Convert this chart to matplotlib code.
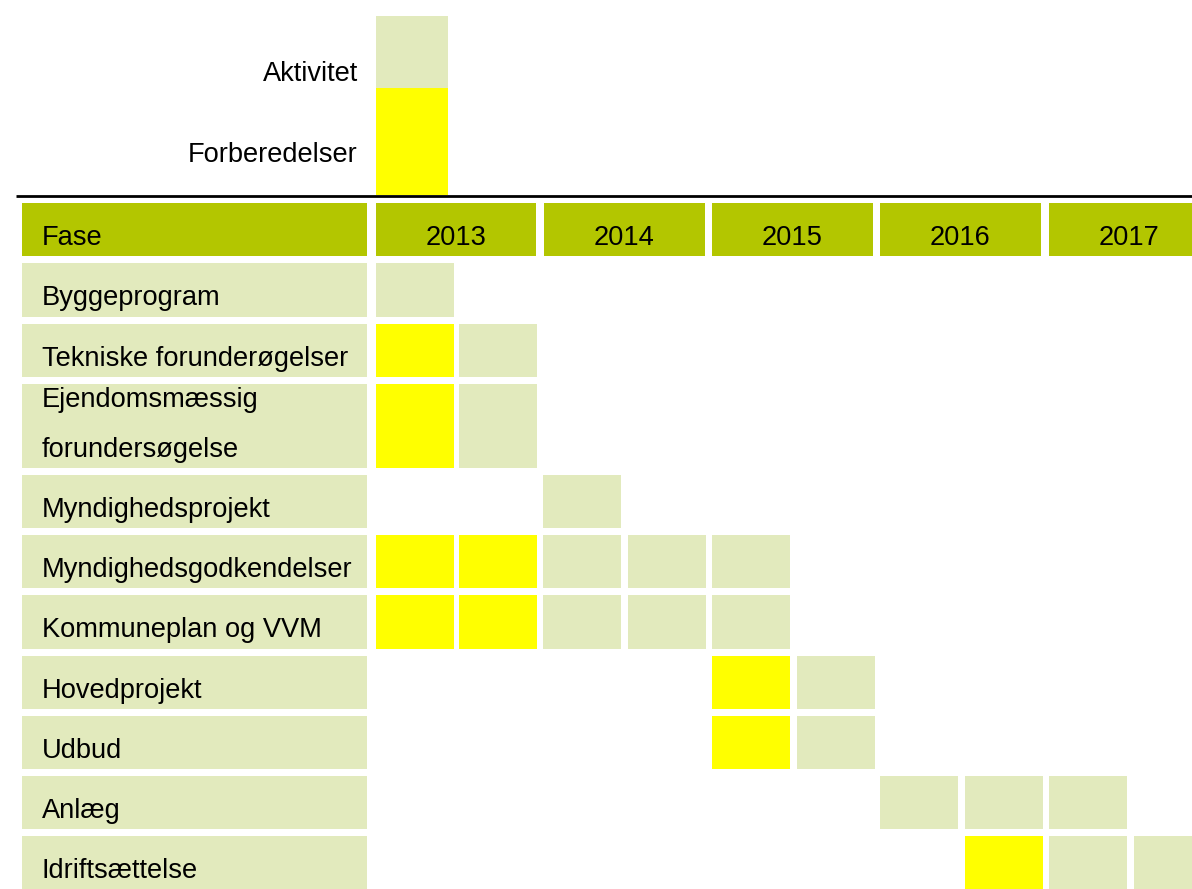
import matplotlib
matplotlib.use('Agg')
import matplotlib.pyplot as plt
from matplotlib.patches import Rectangle

plt.rcParams['font.family'] = ['Liberation Sans', 'DejaVu Sans']

# data: 0 = nothing, 1 = aktivitet, 2 = forberedelser (one value per half year)
years = ['2013', '2014', '2015', '2016', '2017']
phases = ['Byggeprogram', 'Tekniske forunderøgelser', 'Ejendomsmæssig\nforundersøgelse',
          'Myndighedsprojekt', 'Myndighedsgodkendelser', 'Kommuneplan og VVM',
          'Hovedprojekt', 'Udbud', 'Anlæg', 'Idriftsættelse']
status = [
    [1, 0, 0, 0, 0, 0, 0, 0, 0, 0],
    [2, 1, 0, 0, 0, 0, 0, 0, 0, 0],
    [2, 1, 0, 0, 0, 0, 0, 0, 0, 0],
    [0, 0, 1, 0, 0, 0, 0, 0, 0, 0],
    [2, 2, 1, 1, 1, 0, 0, 0, 0, 0],
    [2, 2, 1, 1, 1, 0, 0, 0, 0, 0],
    [0, 0, 0, 0, 2, 1, 0, 0, 0, 0],
    [0, 0, 0, 0, 2, 1, 0, 0, 0, 0],
    [0, 0, 0, 0, 0, 0, 1, 1, 1, 0],
    [0, 0, 0, 0, 0, 0, 0, 2, 1, 1],
]
legend_labels = ['Aktivitet', 'Forberedelser']

DARK = '#B3C600'
LIGHT = '#E2EABD'
YELLOW = '#FFFF00'
colors = {1: LIGHT, 2: YELLOW}

# layout in pixels
col_left = [376, 459, 543, 628, 712, 797, 880, 965, 1049, 1134]
col_w = 78
year_left = [376, 544, 712, 880, 1049]
year_w = [160, 161, 161, 161, 150]
row_top = [263, 324, 384, 475, 535, 595, 656, 716, 776, 836]
row_h = [54, 53, 84, 53, 53, 54, 53, 53, 53, 53]

fig = plt.figure(figsize=(11.92, 8.89), dpi=100)
ax = fig.add_axes([0, 0, 1, 1])
ax.set_xlim(0, 1192)
ax.set_ylim(889, 0)
ax.axis('off')

fs = 19.6

# legend
ax.add_patch(Rectangle((376, 16), 72, 72, color=LIGHT, lw=0))
ax.add_patch(Rectangle((376, 88), 72, 107, color=YELLOW, lw=0))
ax.text(358, 74, legend_labels[0], ha='right', va='center', fontsize=fs)
ax.text(358, 155, legend_labels[1], ha='right', va='center', fontsize=fs)

ax.plot([16, 1192], [196, 196], color='black', lw=2, solid_capstyle='butt')

# header
ax.add_patch(Rectangle((22, 203), 345, 53, color=DARK, lw=0))
ax.text(42, 238, 'Fase', ha='left', va='center', fontsize=fs)
for i, y in enumerate(years):
    ax.add_patch(Rectangle((year_left[i], 203), year_w[i], 53, color=DARK, lw=0))
    ax.text(year_left[i] + 80, 238, y, ha='center', va='center', fontsize=fs)

# rows
for r, name in enumerate(phases):
    top, h = row_top[r], row_h[r]
    ax.add_patch(Rectangle((22, top), 345, h, color=LIGHT, lw=0))
    if '\n' in name:
        l1, l2 = name.split('\n')
        ax.text(42, top + 16, l1, ha='left', va='center', fontsize=fs)
        ax.text(42, top + 66, l2, ha='left', va='center', fontsize=fs)
    else:
        ax.text(42, top + 35, name, ha='left', va='center', fontsize=fs)
    for c, s in enumerate(status[r]):
        if s:
            ax.add_patch(Rectangle((col_left[c], top), col_w, h, color=colors[s], lw=0))

fig.savefig('out.png', dpi=100)
